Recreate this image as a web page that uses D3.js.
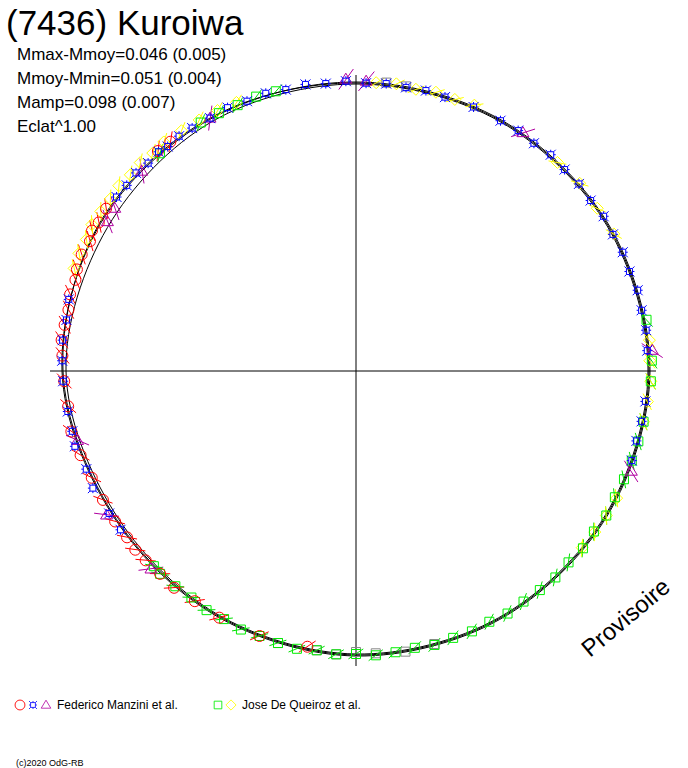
<!DOCTYPE html>
<html><head><meta charset="utf-8">
<script src="https://cdn.jsdelivr.net/npm/d3@7"></script>
<style>body{margin:0;background:#fff}text{font-family:"Liberation Sans",Arial,sans-serif}</style>
</head><body><div id="chart"></div>
<script>
const curveAng = [0,30,60,90,120,150,180,210,240,270,300,330];
const curveA = [-0.004,-0.002,0.002,0.006,-0.002,-0.008,-0.012,-0.018,-0.016,0.006,0.012,0.004];
const curveB = [-0.006,-0.004,0.000,0.004,-0.004,-0.010,-0.014,-0.020,-0.020,0.000,-0.006,-0.004];
const curveC = [-0.002,0.000,0.004,0.008,0.000,-0.006,-0.010,-0.016,-0.014,0.008,0.010,0.002];

const redAng = [321,318,303,300,298,296,293,290,288,285,282,279,276,273,268,263,258,253,248,243,238,234,231,228,224,220,215,209,200,190];
const redMag = [0.010,0.012,0.016,0.014,0.018,0.012,0.016,0.014,0.010,0.012,0.008,0.010,0.012,0.008,0.004,0.000,0.002,-0.004,-0.010,-0.012,-0.012,-0.014,-0.012,-0.014,-0.016,-0.014,-0.018,-0.016,-0.016,-0.020];
const blueAng = [306,309,312,315,318,320,323,326,330,334,338,342,346,350,354,358,2,6,10,14,18,24,30,34,38,42,46,50,54,58,62,66,70,74,78,82,86,96,100,104,108,268,272,276,280,284,262,258,255,250,246,240,236];
const blueMag = [0.012,0.010,0.012,0.008,0.010,0.006,0.008,0.006,0.004,0.006,0.002,0.004,0.000,0.002,-0.002,0.000,-0.004,-0.002,-0.004,-0.002,-0.004,-0.002,-0.002,0.000,-0.002,0.002,0.000,0.002,0.000,0.004,0.002,0.004,0.002,0.006,0.004,0.006,0.004,0.002,0.000,-0.002,0.000,0.006,0.008,0.010,0.008,0.012,0.002,0.000,0.002,-0.006,-0.004,-0.010,-0.012];
const purpleAng = [358,2,304,301,330,86,110,256,240,226,35,313];
const purpleMag = [0.004,0.000,0.002,0.000,0.004,0.014,0.006,-0.006,-0.004,-0.010,0.002,0.006];
const greenAng = [100,104,108,112,116,120,124,128,132,136,140,144,148,152,156,160,164,168,172,176,180,184,188,192,196,200,204,208,212,216,220,224,226,328,332,336,340,344,88,92,80,318];
const greenMag = [0.004,0.002,0.000,-0.002,-0.004,-0.002,-0.006,-0.004,-0.008,-0.006,-0.008,-0.010,-0.008,-0.012,-0.010,-0.012,-0.010,-0.014,-0.012,-0.010,-0.014,-0.012,-0.016,-0.012,-0.014,-0.016,-0.014,-0.018,-0.016,-0.020,-0.018,-0.016,-0.018,0.006,0.004,0.002,0.004,0.002,0.012,0.010,0.010,0.006];
const yellowAng = [290,293,296,299,302,305,308,311,314,317,320,324,328,332,336,4,8,12,16,20,24,44,50,56,62,84,88,92,96,100,116,120,124,128];
const yellowMag = [0.020,0.022,0.020,0.024,0.022,0.020,0.022,0.018,0.020,0.016,0.018,0.014,0.012,0.010,0.008,-0.002,0.000,-0.004,0.000,-0.002,0.002,0.000,0.004,0.002,0.004,0.010,0.008,0.010,0.006,0.004,0.000,-0.002,-0.004,-0.006];
const greyAng = [176,180,184,188,164,6,10,170,196];
const greyMag = [-0.014,-0.018,-0.012,-0.016,-0.012,0.000,-0.002,-0.010,-0.014];

const stats = ["Mmax-Mmoy=0.046 (0.005)", "Mmoy-Mmin=0.051 (0.004)", "Mamp=0.098 (0.007)", "Eclat^1.00"];

const cx = 356, cy = 371;
const svg = d3.select("#chart").append("svg").attr("width", 688).attr("height", 768);

const aScale = d3.scaleLinear().domain([0, 360]).range([0, 2 * Math.PI]);
const rScale = d3.scaleLinear().domain([-0.1, 0.1]).range([240, 340]);
const px = (a, m) => cx + rScale(m) * Math.sin(aScale(a));
const py = (a, m) => cy - rScale(m) * Math.cos(aScale(a));

// axes
svg.append("line").attr("x1", 50).attr("x2", 656).attr("y1", cy).attr("y2", cy).attr("stroke", "#000");
svg.append("line").attr("x1", cx).attr("x2", cx).attr("y1", 75).attr("y2", 666).attr("stroke", "#000");

// model curves
const line = d3.line().x(d => px(d[0], d[1])).y(d => py(d[0], d[1])).curve(d3.curveCardinalClosed);
[curveA, curveB, curveC].forEach(c => {
  svg.append("path").attr("d", line(curveAng.map((a, i) => [a, c[i]])))
    .attr("fill", "none").attr("stroke", "#000").attr("stroke-width", 1);
});

const zip = (a, m) => a.slice(0, Math.min(a.length, m.length)).map((v, i) => [v, m[i]]);

function errBars(data, err, color) {
  svg.append("g").selectAll("line").data(data).enter().append("line")
    .attr("x1", d => px(d[0] - 1.5, d[1] - err)).attr("y1", d => py(d[0] - 1.5, d[1] - err))
    .attr("x2", d => px(d[0] + 1.5, d[1] + err)).attr("y2", d => py(d[0] + 1.5, d[1] + err))
    .attr("stroke", color).attr("stroke-width", 1);
}

const star = "M-3,-3H3V3H-3Z M-5,-5L-3,-3 M5,-5L3,-3 M5,5L3,3 M-5,5L-3,3 M0,-5V-3 M0,5V3 M-5,0H-3 M5,0H3";
function marks(data, d, color) {
  svg.append("g").selectAll("path").data(data).enter().append("path")
    .attr("d", d).attr("transform", p => `translate(${px(p[0], p[1])},${py(p[0], p[1])})`)
    .attr("fill", "none").attr("stroke", color).attr("stroke-width", 1);
}

const red = zip(redAng, redMag), blue = zip(blueAng, blueMag), purple = zip(purpleAng, purpleMag);
const green = zip(greenAng, greenMag), yellow = zip(yellowAng, yellowMag), grey = zip(greyAng, greyMag);

errBars(red, 0.014, "#ff0000");
errBars(purple, 0.02, "#b000a0");
errBars(green, 0.01, "#00dd00");
errBars(yellow, 0.01, "#ffff00");

const circle = "M5.5,0A5.5,5.5 0 1,1 -5.5,0A5.5,5.5 0 1,1 5.5,0";
const tri = "M0,-6L6,4H-6Z";
const sq = "M-4.5,-4.5H4.5V4.5H-4.5Z";
const dia = "M0,-6L6,0L0,6L-6,0Z";

marks(yellow, dia, "#ffff00");
marks(grey, sq, "#888888");
marks(green, sq, "#00ee00");
marks(red, circle, "#ff0000");
marks(purple, tri, "#b000a0");
marks(blue, star, "#0000ff");

// texts
svg.append("text").attr("x", 6).attr("y", 35).attr("font-size", 35).text("(7436) Kuroiwa");
svg.selectAll(".st").data(stats).enter().append("text").attr("class", "st")
  .attr("x", 17).attr("y", (d, i) => 60 + i * 24).attr("font-size", 17).text(d => d);

svg.append("text").attr("transform", "translate(590,658) rotate(-40)").attr("font-size", 24).text("Provisoire");

// legend
svg.append("path").attr("d", circle).attr("transform", "translate(20,705) scale(0.9)").attr("fill", "none").attr("stroke", "#ff0000");
svg.append("path").attr("d", star).attr("transform", "translate(33,705) scale(0.8)").attr("fill", "none").attr("stroke", "#0000ff");
svg.append("path").attr("d", tri).attr("transform", "translate(46,705) scale(0.8)").attr("fill", "none").attr("stroke", "#b000a0");
svg.append("text").attr("x", 57).attr("y", 709).attr("font-size", 12).text("Federico Manzini et al.");
svg.append("path").attr("d", sq).attr("transform", "translate(218,705) scale(0.85)").attr("fill", "none").attr("stroke", "#00ee00");
svg.append("path").attr("d", dia).attr("transform", "translate(231,705) scale(0.85)").attr("fill", "none").attr("stroke", "#ffff00");
svg.append("text").attr("x", 242).attr("y", 709).attr("font-size", 12).text("Jose De Queiroz et al.");
svg.append("text").attr("x", 16).attr("y", 766).attr("font-size", 9).text("(c)2020 OdG-RB");
</script></body></html>
